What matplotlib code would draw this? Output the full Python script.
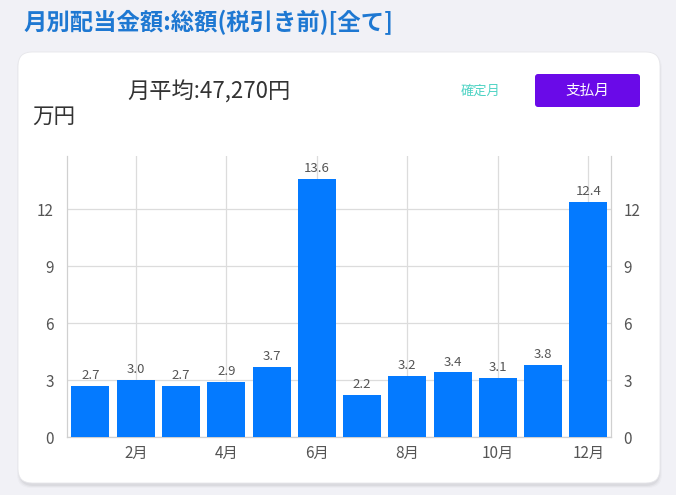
import numpy as np
import matplotlib
matplotlib.use('Agg')
import matplotlib.pyplot as plt
from matplotlib.patches import FancyBboxPatch

plt.rcParams['font.family'] = ['Noto Sans CJK JP', 'DejaVu Sans']

# Monthly dividends (万円)
months = np.arange(1, 13)
values = [2.7, 3.0, 2.7, 2.9, 3.7, 13.6, 2.2, 3.2, 3.4, 3.1, 3.8, 12.4]
tick_months = [2, 4, 6, 8, 10, 12]
tick_labels = [f'{m}月' for m in tick_months]
y_ticks = [0, 3, 6, 9, 12]

W, H = 676, 495
fig = plt.figure(figsize=(W / 100, H / 100), dpi=100)
fig.patch.set_facecolor('#f1f1f6')

# background layer in pixel coordinates
bg = fig.add_axes([0, 0, 1, 1])
bg.set_xlim(0, W)
bg.set_ylim(H, 0)
bg.axis('off')

# card with a soft shadow
for i, a in enumerate([0.04, 0.03, 0.02]):
    bg.add_patch(FancyBboxPatch((19 - i, 54 - i + 2), 641 + 2 * i, 430 + 2 * i,
                                boxstyle='round,pad=0,rounding_size=14',
                                fc='black', ec='none', alpha=a))
bg.add_patch(FancyBboxPatch((18, 52), 642, 431,
                            boxstyle='round,pad=0,rounding_size=14',
                            fc='white', ec='#e6e6ea', lw=0.6))

# purple button
bg.add_patch(FancyBboxPatch((535, 74), 105, 33,
                            boxstyle='round,pad=0,rounding_size=3',
                            fc='#6a0ae8', ec='none'))
bg.text(587, 91, '支払月', color='white', fontsize=10.5, ha='center', va='center')
bg.text(481, 91, '確定月', color='#4fd3c4', fontsize=9.5, ha='center', va='center')

bg.text(24, 22, '月別配当金額:総額(税引き前)[全て]', color='#1e78d2',
        fontsize=16.8, fontweight='bold', ha='left', va='center')
bg.text(127, 92, '月平均:47,270円', color='#333333', fontsize=16,
        ha='left', va='center')
bg.text(32, 117, '万円', color='#333333', fontsize=15.5, ha='left', va='center')

# chart
ax = fig.add_axes([66.5 / W, (H - 437) / H, (611 - 66.5) / W, (437 - 156) / H])
ax.set_facecolor('none')
bars = ax.bar(months, values, width=0.84, color='#047aff', zorder=3)
ax.set_xlim(0.47, 12.5)
ax.set_ylim(0, 14.8)
ax.set_xticks(tick_months)
ax.set_xticklabels(tick_labels)
ax.set_yticks(y_ticks)
ax.grid(True, color='#dcdcdc', lw=0.9, zorder=0)
ax.tick_params(length=0, labelsize=11, colors='#555555', labelright=True, pad=9)
ax.tick_params(axis='x', pad=6)
ax.spines['top'].set_visible(False)
for s in ['left', 'right', 'bottom']:
    ax.spines[s].set_color('#d0d0d0')
    ax.spines[s].set_linewidth(0.9)

for bar in bars:
    yval = bar.get_height()
    ax.text(bar.get_x() + bar.get_width() / 2, yval + 0.2, f'{yval:.1f}',
            ha='center', va='bottom', fontsize=9.5, color='#555555', zorder=4)

fig.savefig('out.png', dpi=100)
